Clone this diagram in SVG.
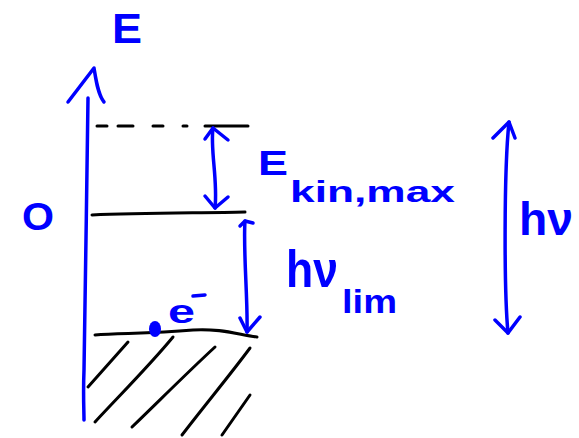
<svg xmlns="http://www.w3.org/2000/svg" width="579" height="438" viewBox="0 0 579 438">
<style>
.b{fill:none;stroke:#0000ff;stroke-width:3.5;stroke-linecap:round;stroke-linejoin:round}
.k{fill:none;stroke:#000;stroke-width:3;stroke-linecap:round;stroke-linejoin:round}
.t{fill:#0000ff;font-family:"Liberation Sans",Arial,sans-serif;font-weight:bold}
</style>
<rect width="579" height="438" fill="#fff"/>
<g id="axis">
<path class="b" d="M88,98 C87,180 85,300 84,370 C83,395 84,410 84,420"/>
<path class="b" d="M68,102 L94,68 C96,80 98,95 104,102"/>
<text class="t" x="112" y="43" font-size="42" textLength="30" lengthAdjust="spacingAndGlyphs">E</text>
<text class="t" x="22" y="230" font-size="38" textLength="32" lengthAdjust="spacingAndGlyphs">O</text>
</g>
<g id="levels">
<path class="k" d="M97,126 H248" stroke-dasharray="10,11,15,20,10,20,4,18,43,0"/>
<path class="k" d="M92,215 C140,213 200,213 245,212"/>
<path class="k" d="M95,335 C120,333 150,334 193,330 C220,328 240,335 257,337"/>
</g>
<g id="metal">
<path class="k" d="M88,387 L128,342"/>
<path class="k" d="M95,422 C120,395 150,365 173,337"/>
<path class="k" d="M132,427 C160,400 190,370 215,347"/>
<path class="k" d="M182,435 C205,405 230,375 250,348"/>
<path class="k" d="M222,435 L250,395"/>
</g>
<g id="electron">
<ellipse cx="155" cy="329" rx="6" ry="8" fill="#0000ff"/>
<text class="t" x="168" y="323" font-size="34" textLength="27" lengthAdjust="spacingAndGlyphs">e</text>
<path class="b" d="M193,296 L205,295"/>
</g>
<g id="connectors">
<path class="b" d="M213,128 C210,150 218,180 215,208"/>
<path class="b" d="M205,139 L213,128 L228,140"/>
<path class="b" d="M205,196 L215,208 L228,197"/>
<path class="b" d="M245,221 C243,250 248,300 247,332"/>
<path class="b" d="M240,226 L245,221 L253,223"/>
<path class="b" d="M240,318 L247,332 L260,317"/>
<path class="b" d="M509,122 C504,170 504,290 508,333"/>
<path class="b" d="M493,138 L509,122 L515,138"/>
<path class="b" d="M495,320 L508,333 L520,317"/>
</g>
<g id="labels">
<text class="t" x="258" y="175" font-size="35" textLength="30" lengthAdjust="spacingAndGlyphs">E</text>
<text class="t" x="290" y="202" font-size="30" textLength="165" lengthAdjust="spacingAndGlyphs">kin,max</text>
<text class="t" x="286" y="287" font-size="52" textLength="52" lengthAdjust="spacingAndGlyphs">hν</text>
<text class="t" x="342" y="313" font-size="34" textLength="55" lengthAdjust="spacingAndGlyphs">lim</text>
<text class="t" x="519" y="235" font-size="46" textLength="54" lengthAdjust="spacingAndGlyphs">hν</text>
</g>
</svg>
